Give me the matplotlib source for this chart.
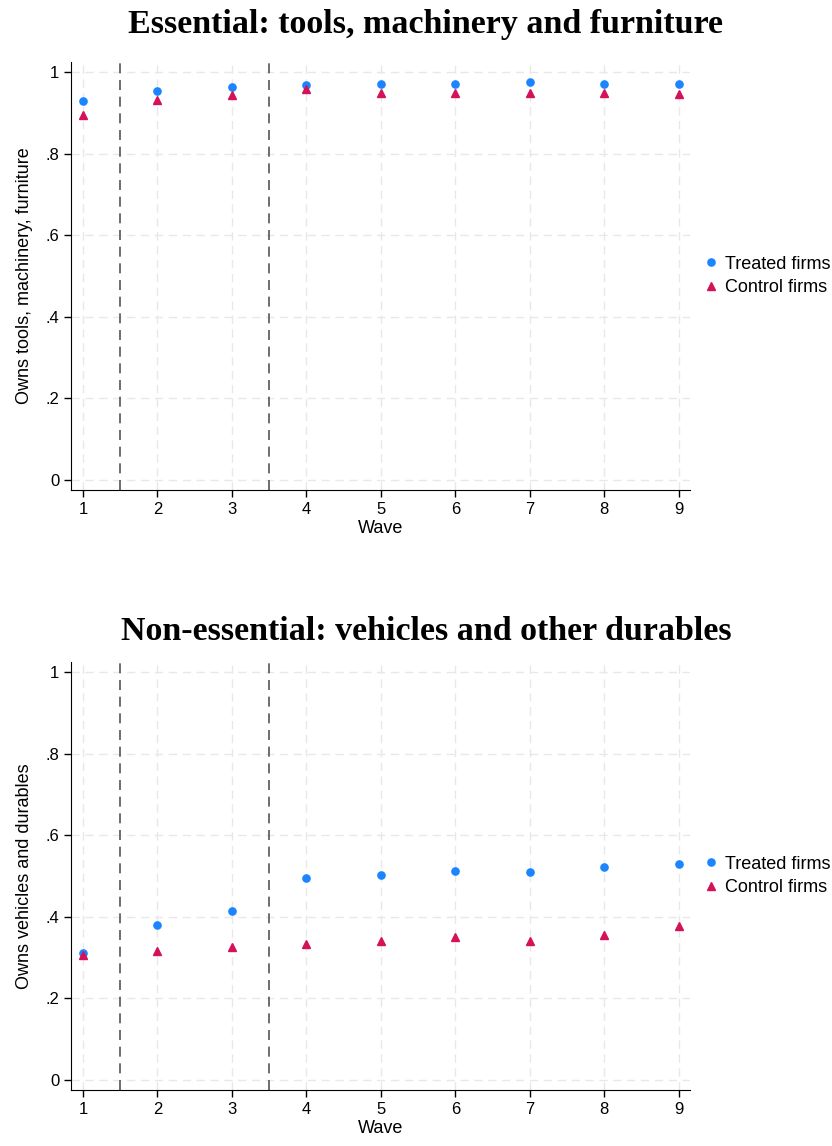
import matplotlib
matplotlib.use("Agg")
import matplotlib.pyplot as plt
import numpy as np

plt.rcParams['font.family'] = ['Liberation Sans', 'DejaVu Sans']

waves = [1, 2, 3, 4, 5, 6, 7, 8, 9]

# Essential: tools, machinery and furniture
ess_treated = [0.929, 0.953, 0.964, 0.968, 0.972, 0.972, 0.976, 0.972, 0.972]
ess_control = [0.895, 0.931, 0.943, 0.958, 0.949, 0.949, 0.949, 0.949, 0.947]

# Non-essential: vehicles and other durables
non_treated = [0.310, 0.379, 0.413, 0.496, 0.502, 0.511, 0.509, 0.521, 0.530]
non_control = [0.306, 0.317, 0.325, 0.332, 0.341, 0.350, 0.341, 0.354, 0.377]

yticks = [0, 0.2, 0.4, 0.6, 0.8, 1]
ytick_labels = ['0', '.2', '.4', '.6', '.8', '1']
cutoffs = [1.5, 3.5]

panels = [
    ("Essential: tools, machinery and furniture", "Owns tools, machinery, furniture",
     ess_treated, ess_control),
    ("Non-essential: vehicles and other durables", "Owns vehicles and durables",
     non_treated, non_control),
]

BLUE = '#1a85ff'
RED = '#d41159'

fig = plt.figure(figsize=(8.32, 11.46), dpi=100)
boxes = [[0.0853, 0.5724, 0.744, 0.3735], [0.0853, 0.0489, 0.744, 0.3735]]
title_y = [0.979, 0.449]

for box, ty, (title, ylabel, treated, control) in zip(boxes, title_y, panels):
    ax = fig.add_axes(box)
    ax.grid(True, color='#e8e8e8', linestyle=(0, (6, 4)), linewidth=1.0)
    ax.set_axisbelow(True)
    for c in cutoffs:
        ax.axvline(c, color='#555555', linestyle=(0, (6, 4)), linewidth=1.2)
    ax.plot(waves, treated, 'o', color=BLUE, markersize=5.2, label='Treated firms')
    ax.plot(waves, control, '^', color=RED, markersize=5.6, label='Control firms')
    ax.set_xlim(0.84, 9.15)
    ax.set_ylim(-0.025, 1.025)
    ax.set_xticks(waves)
    ax.set_yticks(yticks)
    ax.set_yticklabels(ytick_labels)
    ax.tick_params(labelsize=12, length=5, width=1, colors='black')
    for s in ['top', 'right']:
        ax.spines[s].set_visible(False)
    ax.set_xlabel('Wave', fontsize=13, labelpad=2)
    ax.set_ylabel(ylabel, fontsize=13, labelpad=9)
    fig.text(0.512, ty, title, fontsize=24.5, fontweight='bold',
             family=['Liberation Serif', 'DejaVu Serif'], ha='center', va='center')
    ax.legend(loc='center left', bbox_to_anchor=(0.99, 0.5), frameon=False,
              fontsize=13, handletextpad=0.2, handlelength=1.2, labelspacing=0.38)

fig.savefig('out.png', dpi=100)
